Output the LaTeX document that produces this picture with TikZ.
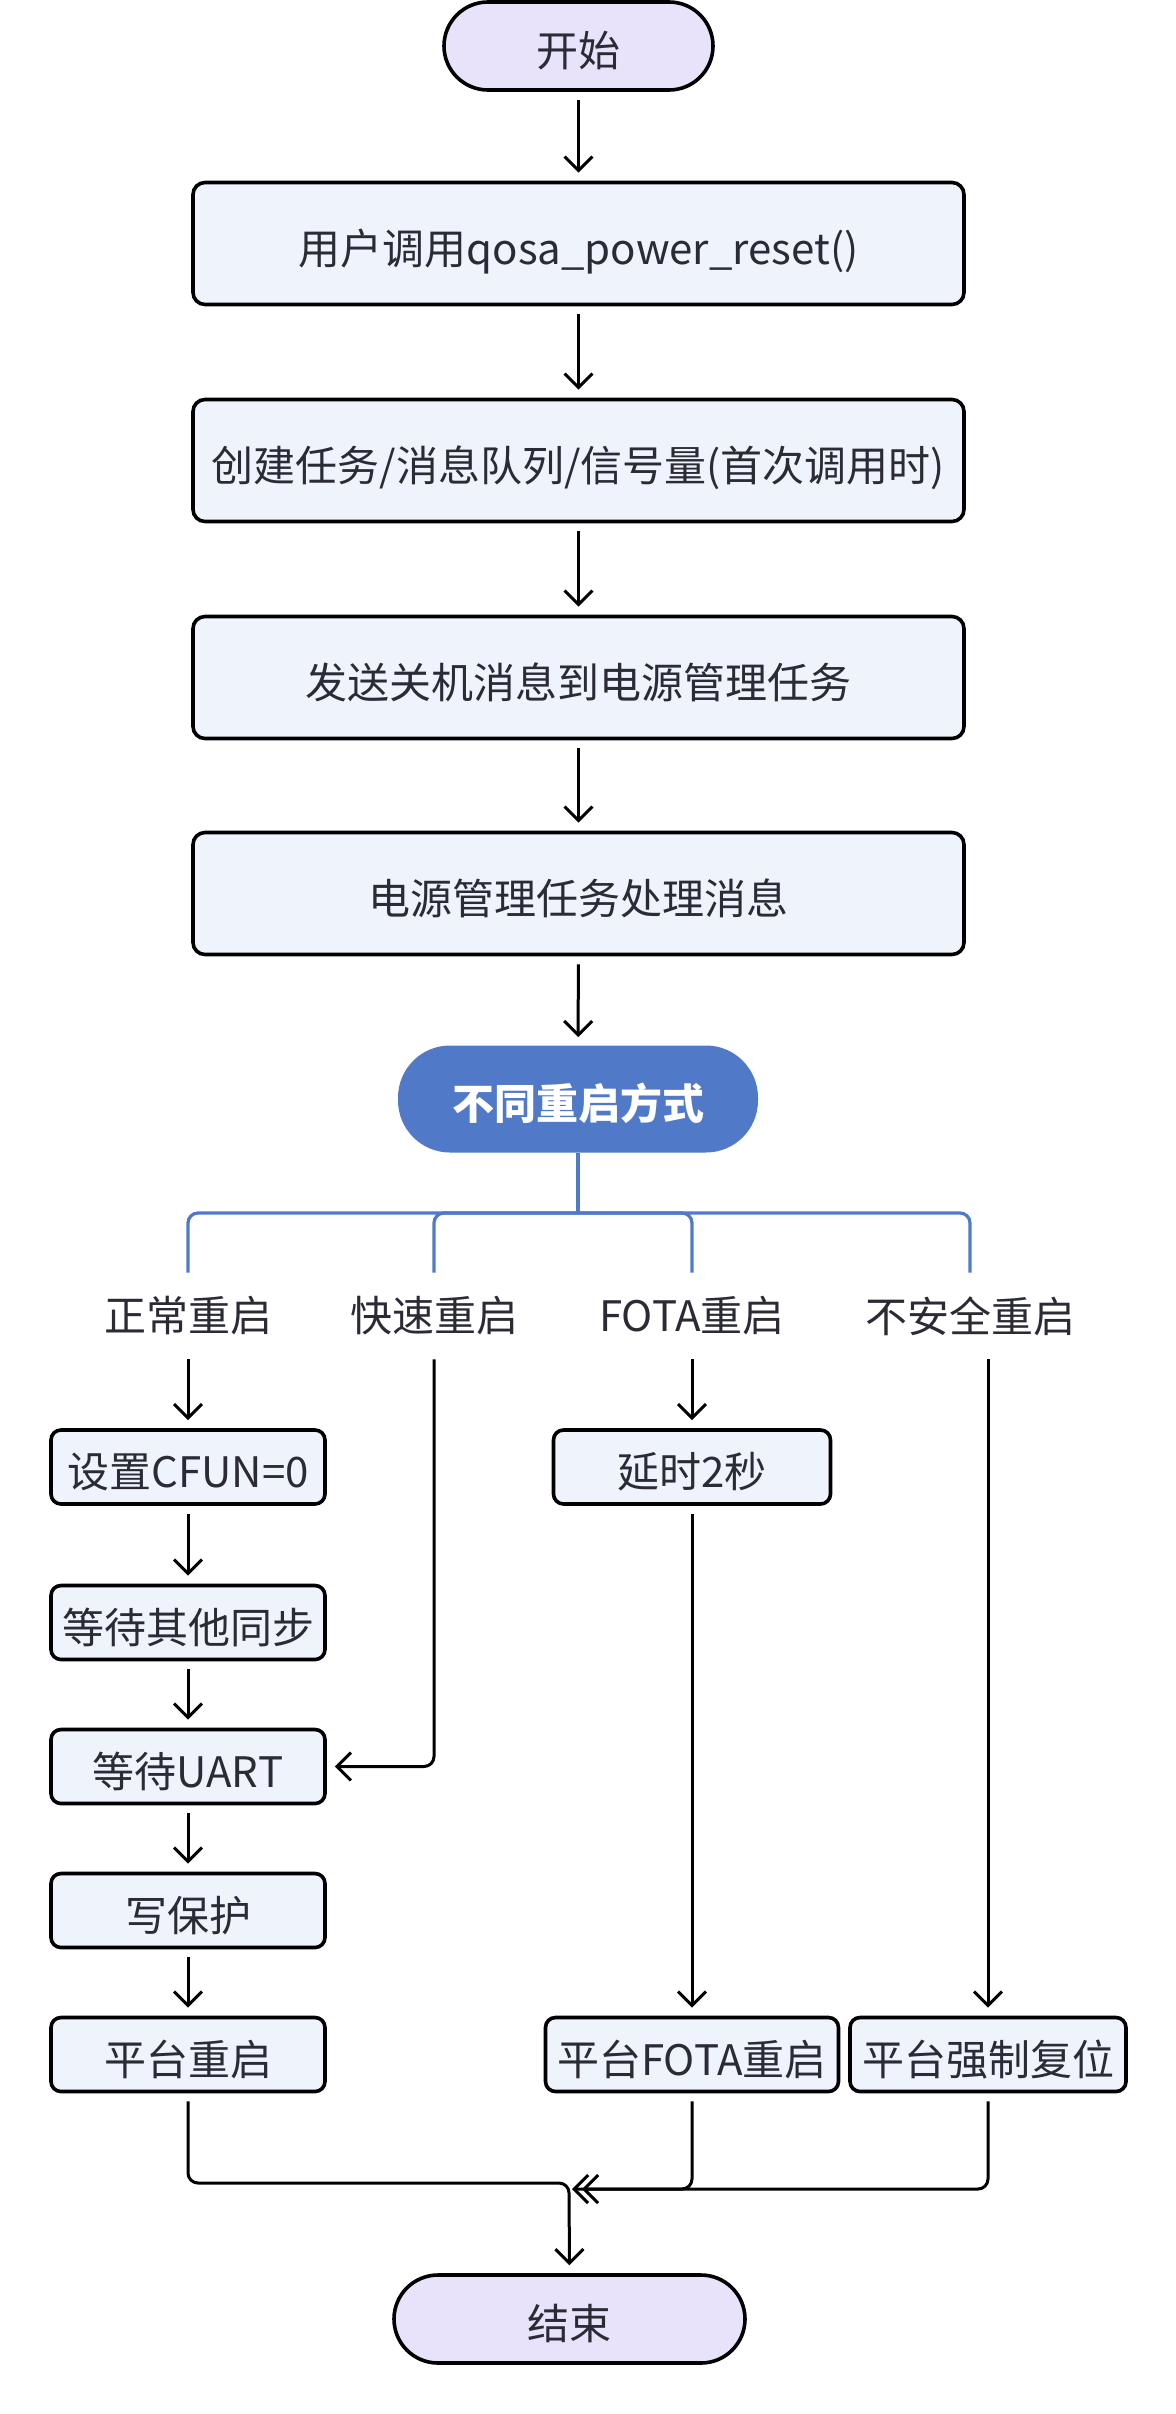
\documentclass[tikz,border=0pt]{standalone}
\usepackage{fontspec}
\setmainfont{Noto Sans CJK SC}
\usetikzlibrary{arrows.meta}
\definecolor{boxfill}{HTML}{EEF3FC}
\definecolor{termfill}{HTML}{E8E2FA}
\definecolor{busblue}{HTML}{5079C7}
\definecolor{ink}{HTML}{2B2B36}

\begin{document}
\begin{tikzpicture}
[x=0.5pt,y=-0.5pt,
 every node/.style={font=\fontsize{21}{25}\selectfont,text=ink,inner sep=0pt},
 txtpos/.style={text height=20.5pt,text depth=0pt},
 box/.style={txtpos,draw=black,line width=1.8pt,fill=boxfill,rounded corners=6pt,minimum height=61pt},
 small/.style={txtpos,draw=black,line width=1.8pt,fill=boxfill,rounded corners=5pt,minimum height=37pt},
 term/.style={txtpos,draw=black,line width=1.8pt,fill=termfill,rounded corners=22pt,minimum height=44pt},
 choice/.style={txtpos,fill=busblue,text=white,font=\fontsize{21}{25}\selectfont\bfseries,rounded corners=26pt,minimum width=180pt,minimum height=53.5pt},
 lbl/.style={minimum height=35pt},
 flow/.style={line width=1.5pt,-{Straight Barb[length=7pt,width=14pt]},shorten <=4pt,shorten >=4pt},
 bus/.style={line width=1.6pt,draw=busblue,rounded corners=5pt}]
\useasboundingbox (0,0) rectangle (1176,2414);
% main line
\node[term,minimum width=134.5pt] (start) at (578.5,46) {开始};
\node[box,minimum width=385.5pt] (call) at (578.5,243.5) {用户调用qosa\_power\_reset()};
\node[box,minimum width=385.5pt] (create) at (578.5,460.5) {创建任务/消息队列/信号量(首次调用时)};
\node[box,minimum width=385.5pt] (send) at (578.5,677.5) {发送关机消息到电源管理任务};
\node[box,minimum width=385.5pt] (handle) at (578.5,893.5) {电源管理任务处理消息};
\node[choice] (mode) at (578,1099) {不同重启方式};
\coordinate (hub) at (578,1213);
% the four ways
\node[lbl] (normal) at (188,1316) {正常重启};
\node[lbl] (fast) at (434,1316) {快速重启};
\node[lbl] (fota) at (692,1316) {FOTA重启};
\node[lbl] (unsafe) at (970,1316) {不安全重启};
\node[small,minimum width=137pt] (cfun) at (188,1467) {设置CFUN=0};
\node[small,minimum width=137pt] (sync) at (188,1622.5) {等待其他同步};
\node[small,minimum width=137pt] (uart) at (188,1766.5) {等待UART};
\node[small,minimum width=137pt] (wp) at (188,1910.5) {写保护};
\node[small,minimum width=137pt] (plat) at (188,2054.5) {平台重启};
\node[small,minimum width=138.5pt] (delay) at (692,1467) {延时2秒};
\node[small,minimum width=146.5pt] (pfota) at (692,2054.5) {平台FOTA重启};
\node[small,minimum width=138pt] (force) at (988,2054.5) {平台强制复位};
\node[term,minimum width=175.5pt] (stop) at (569.5,2319) {结束};
\coordinate (joinL) at (569,2183);
\coordinate (joinR) at (569,2189);
% connectors
\foreach \from/\to in {start/call,call/create,create/send,send/handle,handle/mode,normal/cfun,cfun/sync,sync/uart,uart/wp,wp/plat,fota/delay,delay/pfota}
\draw[flow] (\from) -- (\to);
\draw[bus] (mode.south) -- (hub);
\foreach \b in {normal,fast,fota,unsafe}
\draw[bus,shorten >=4pt] (hub) -| (\b.north);
\draw[flow,rounded corners=5pt] (fast.south) |- (uart.east);
\draw[flow] (unsafe.south -| force.north) -- (force.north);
\draw[flow,rounded corners=5pt] (plat.south) |- (joinL) -- (stop.north);
\draw[flow,rounded corners=5pt,shorten >=1.5pt] (pfota.south) |- (joinR);
\draw[flow,rounded corners=5pt,shorten >=6.5pt] (force.south) |- (joinR);
\end{tikzpicture}
\end{document}
